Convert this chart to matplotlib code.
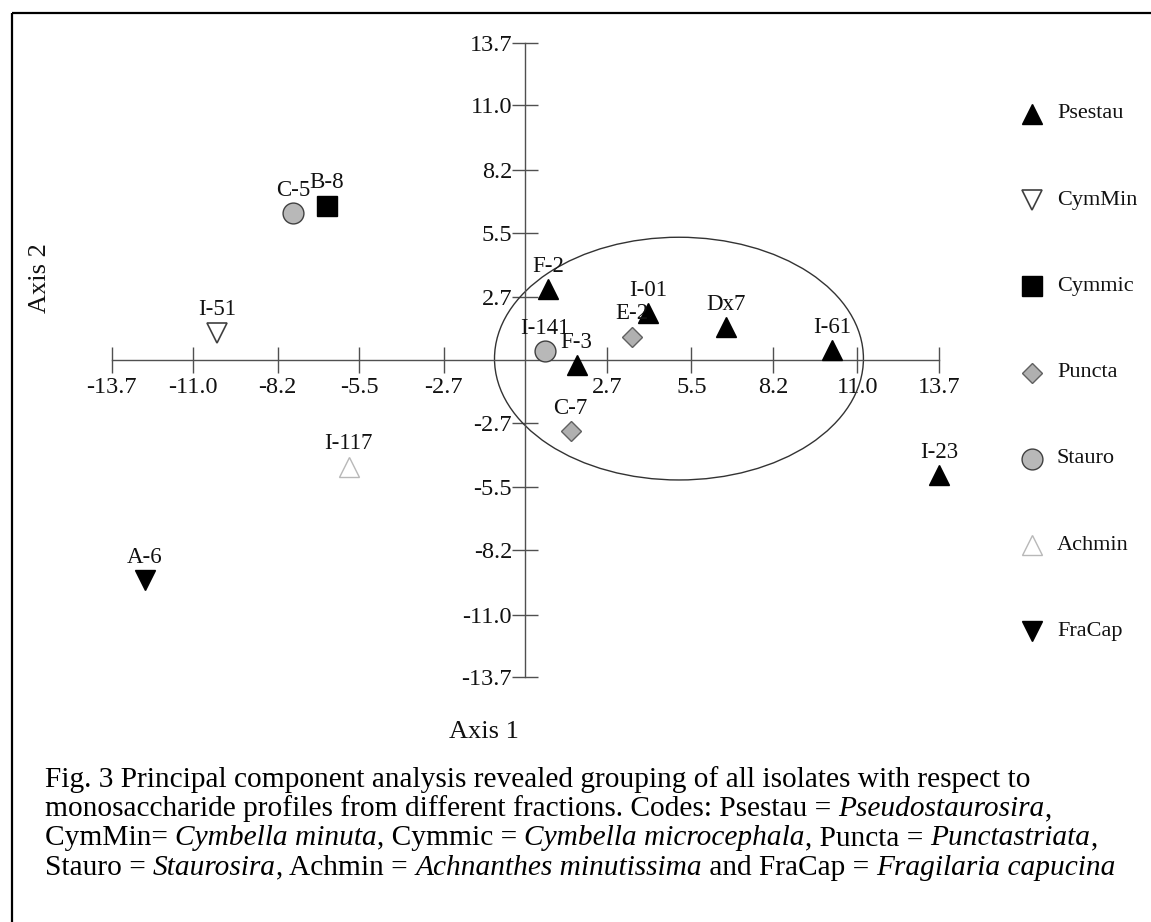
import matplotlib
matplotlib.use('Agg')
import matplotlib.pyplot as plt
from matplotlib.patches import Ellipse

plt.rcParams['font.family'] = ['Liberation Serif', 'DejaVu Serif']

W, H, DPI = 1151, 922, 100

# ---------------- data ----------------
point_labels = ['F-2', 'I-01', 'Dx7', 'I-61', 'F-3', 'I-23',
                'I-51', 'B-8', 'E-2', 'C-7', 'C-5', 'I-141', 'I-117', 'A-6']
axis1 = [0.76, 4.07, 6.65, 10.15, 1.70, 13.70,
         -10.22, -6.58, 3.52, 1.50, -7.68, 0.65, -5.85, -12.60]
axis2 = [3.05, 2.02, 1.41, 0.43, -0.22, -4.97,
         1.17, 6.65, 1.01, -3.07, 6.33, 0.38, -4.61, -9.50]
point_groups = ['Psestau'] * 6 + ['CymMin', 'Cymmic', 'Puncta', 'Puncta',
                                  'Stauro', 'Stauro', 'Achmin', 'FraCap']
groups = ['Psestau', 'CymMin', 'Cymmic', 'Puncta', 'Stauro', 'Achmin', 'FraCap']
tick_values = [-13.7, -11.0, -8.2, -5.5, -2.7, 2.7, 5.5, 8.2, 11.0, 13.7]
tick_labels = ['-13.7', '-11.0', '-8.2', '-5.5', '-2.7', '2.7', '5.5', '8.2', '11.0', '13.7']
ellipse_center = (5.09, 0.06)
ellipse_size = (12.22, 10.48)

caption_lines = [
    [("Fig. 3 Principal component analysis revealed grouping of all isolates with respect to", False)],
    [("monosaccharide profiles from different fractions. Codes: Psestau = ", False),
     ("Pseudostaurosira", True), (",", False)],
    [("CymMin= ", False), ("Cymbella minuta", True), (", Cymmic = ", False),
     ("Cymbella microcephala", True), (", Puncta = ", False), ("Punctastriata", True), (",", False)],
    [("Stauro = ", False), ("Staurosira", True), (", Achmin = ", False),
     ("Achnanthes minutissima", True), (" and FraCap = ", False), ("Fragilaria capucina", True)],
]

# ---------------- styles ----------------
styles = {
    'Psestau': dict(marker='^', ms=15, mfc='black', mec='black', mew=1),
    'CymMin': dict(marker='v', ms=15, mfc='white', mec='#404040', mew=1.2),
    'Cymmic': dict(marker='s', ms=14, mfc='black', mec='black', mew=1),
    'Puncta': dict(marker='D', ms=10, mfc='#b0b0b0', mec='#606060', mew=1),
    'Stauro': dict(marker='o', ms=15, mfc='#b8b8b8', mec='#404040', mew=1),
    'Achmin': dict(marker='^', ms=15, mfc='white', mec='#b8b8b8', mew=1),
    'FraCap': dict(marker='v', ms=15, mfc='black', mec='black', mew=1),
}

fig = plt.figure(figsize=(W / DPI, H / DPI), dpi=DPI)
fig.patch.set_facecolor('white')

# pixel mapping of the plot
x0px, y0px = 525.3, 360.0
sx, sy = 30.19, 23.16
L, R, T, B = 80, 980, 20, 700
ax = fig.add_axes([L / W, 1 - B / H, (R - L) / W, (B - T) / H])
ax.set_xlim((L - x0px) / sx, (R - x0px) / sx)
ax.set_ylim((y0px - B) / sy, (y0px - T) / sy)
ax.patch.set_visible(False)

axcol = '#505050'
for s in ['top', 'right']:
    ax.spines[s].set_visible(False)
ax.spines['left'].set_position(('data', 0))
ax.spines['bottom'].set_position(('data', 0))
for s in ['left', 'bottom']:
    ax.spines[s].set_bounds(-13.7, 13.7)
    ax.spines[s].set_color(axcol)
    ax.spines[s].set_linewidth(1.0)

ax.set_xticks(tick_values)
ax.set_xticklabels(tick_labels)
ax.set_yticks(tick_values)
ax.set_yticklabels(tick_labels)
ax.tick_params(axis='both', direction='inout', length=19, width=1.0, color=axcol,
               labelsize=17.5, labelcolor='#111111')
ax.tick_params(axis='x', pad=3)
ax.tick_params(axis='y', pad=0)

ell = Ellipse(ellipse_center, ellipse_size[0], ellipse_size[1], fill=False,
              edgecolor='#333333', lw=1.0, zorder=2)
ax.add_patch(ell)

for lab, xv, yv, g in zip(point_labels, axis1, axis2, point_groups):
    ax.plot([xv], [yv], linestyle='none', zorder=4, clip_on=False, **styles[g])
    ax.annotate(lab, (xv, yv), xytext=(0, 12.6), textcoords='offset points',
                ha='center', va='baseline', fontsize=16.5, color='#111111', zorder=5)

# ---------------- overlay in pixel coordinates ----------------
ov = fig.add_axes([0, 0, 1, 1], zorder=-1)
ov.set_xlim(0, W)
ov.set_ylim(H, 0)
ov.axis('off')

ov.plot([12, 12], [13, H + 10], color='black', lw=1.6, solid_capstyle='butt')
ov.plot([12, W + 10], [13, 13], color='black', lw=1.6, solid_capstyle='butt')

for i, g in enumerate(groups):
    yy = 114 + i * 86.2
    ov.plot([1032], [yy], linestyle='none', **styles[g])
    ov.text(1057, yy, g, va='center', ha='left', fontsize=16, color='#111111')

ov.text(40, 278, 'Axis 2', rotation=90, va='center', ha='center', fontsize=19, color='#111111')
ov.text(484, 732, 'Axis 1', va='center', ha='center', fontsize=19, color='#111111')

# caption with mixed italic segments
renderer = fig.canvas.get_renderer()
cap_fs = 21.2


def seg_width(s, italic):
    st = 'italic' if italic else 'normal'
    t = ov.text(0, 0, s + 'l', fontsize=cap_fs, style=st)
    w = t.get_window_extent(renderer).width
    t.remove()
    t2 = ov.text(0, 0, 'l', fontsize=cap_fs, style=st)
    w2 = t2.get_window_extent(renderer).width
    t2.remove()
    return w - w2


for li, segs in enumerate(caption_lines):
    xx = 45
    yy = 787 + li * 29.2
    for s, it in segs:
        ov.text(xx, yy, s, fontsize=cap_fs, style='italic' if it else 'normal',
                va='baseline', ha='left', color='black')
        xx += seg_width(s, it)

fig.savefig('out.png', dpi=DPI, facecolor='white')
